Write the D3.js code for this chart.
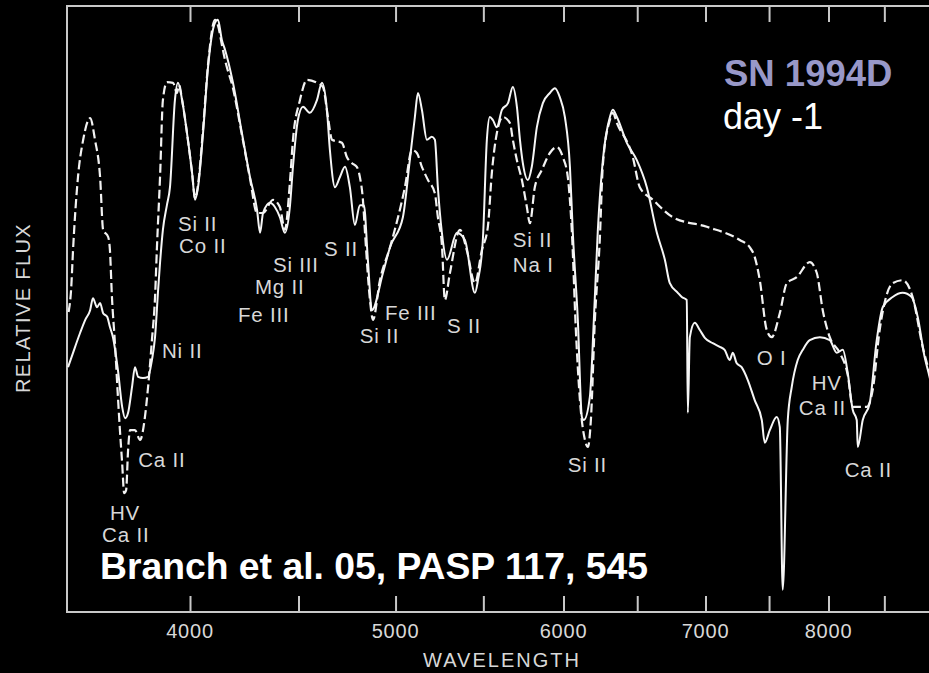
<!DOCTYPE html>
<html>
<head>
<meta charset="utf-8">
<script src="https://cdn.jsdelivr.net/npm/d3@7"></script>
<style>
  html, body { margin: 0; padding: 0; background: #000; }
  svg { display: block; }
</style>
</head>
<body>
<script>
// Observed spectrum of SN 1994D (day -1): wavelength (Å) and relative flux
const obsWave = [3504,3523,3550,3570,3589,3600,3616,3628,3640,3656,3667,3679,3699,3716,3728,3740,3756,3768,3781,3801,3822,3838,3851,3864,3872,3884,3901,3914,3935,3948,3966,3987,4009,4022,4035,4057,4079,4110,4123,4141,4155,4191,4232,4269,4302,4316,4330,4363,4386,4410,4434,4458,4473,4497,4522,4556,4591,4616,4641,4656,4682,4707,4733,4758,4784,4810,4831,4852,4873,4932,4970,5040,5078,5106,5123,5145,5173,5201,5218,5235,5258,5287,5344,5391,5450,5468,5497,5521,5539,5557,5581,5612,5649,5679,5704,5723,5741,5772,5797,5829,5867,5912,5944,5976,6009,6042,6061,6094,6121,6134,6174,6201,6228,6262,6310,6330,6358,6427,6497,6568,6640,6698,6734,6793,6822,6859,6867,6882,6919,6957,6995,7055,7109,7147,7186,7211,7240,7280,7328,7384,7441,7465,7506,7563,7588,7612,7654,7687,7737,7780,7839,7925,8011,8072,8125,8169,8213,8249,8258,8303,8366,8430,8485,8577,8670,8756,8813,8880,8919,8977];
const obsFlux = [40.8,43.2,46.5,48.7,50.3,52.3,50.8,51.5,49.8,49.2,47.5,45.8,40.3,34.2,32.3,33.2,37.5,40.8,39.2,39.0,39.2,42.0,45.8,53.7,58.2,63.7,67.8,70.8,85.3,88.2,85.3,79.8,73.2,68.7,70.8,79.8,90.8,98.2,98.7,95.3,93.7,88.2,79.8,72.5,67.0,63.2,66.5,68.2,67.5,65.8,63.2,67.5,74.2,82.0,84.2,83.2,85.3,88.2,83.7,77.0,70.8,72.5,74.2,70.8,64.5,67.8,67.8,58.7,50.3,56.5,60.8,65.8,75.3,82.5,86.5,83.7,78.7,79.2,78.7,70.8,63.2,58.7,63.2,62.0,53.2,55.3,62.0,78.7,82.5,82.0,80.8,83.7,84.8,87.5,84.2,78.7,74.8,72.0,74.2,80.8,84.8,86.5,87.3,85.8,82.5,74.2,63.2,48.7,32.5,32.0,35.8,48.7,63.7,75.3,82.5,83.7,82.5,78.2,75.3,70.8,63.2,58.7,54.8,53.2,52.5,52.0,33.2,45.8,48.2,47.0,45.7,44.8,44.2,43.7,42.0,43.2,41.5,40.8,38.7,35.3,32.0,28.2,30.3,32.5,30.8,3.7,32.0,37.5,42.0,43.7,45.3,45.8,45.3,43.2,43.7,39.8,33.7,32.0,27.5,32.0,34.8,45.3,50.8,52.5,53.2,52.5,49.2,42.5,39.8,35.3];

// Synthetic (model) spectrum
const synWave = [3506,3516,3523,3542,3562,3589,3608,3628,3640,3660,3667,3675,3687,3699,3707,3716,3724,3732,3740,3748,3768,3789,3809,3822,3838,3851,3859,3872,3884,3901,3927,3944,3953,3966,3987,4009,4022,4035,4057,4079,4110,4123,4141,4155,4191,4232,4269,4302,4330,4377,4410,4434,4458,4473,4507,4542,4591,4621,4646,4667,4717,4743,4769,4794,4810,4826,4837,4863,4879,4916,4970,5051,5090,5117,5145,5179,5218,5235,5258,5275,5304,5362,5402,5450,5491,5527,5551,5581,5618,5661,5679,5704,5735,5766,5785,5816,5861,5912,5957,5996,6028,6055,6081,6108,6141,6161,6181,6208,6241,6262,6310,6330,6358,6469,6518,6611,6756,7010,7265,7344,7384,7425,7481,7522,7588,7646,7729,7839,7899,7950,8011,8098,8169,8213,8339,8393,8457,8577,8670,8765,8861,8919,8977];
const synFlux = [50.0,54.0,60.3,72.5,78.7,82.3,78.7,72.5,63.7,62.5,60.3,52.5,44.8,35.8,30.3,24.8,19.8,20.3,27.0,30.3,30.3,28.7,32.5,37.5,45.3,52.5,60.8,72.5,85.3,88.3,88.2,86.5,87.8,85.3,79.8,73.2,69.0,71.2,80.5,91.2,98.7,97.8,94.5,92.0,87.3,79.5,72.3,66.5,66.5,68.7,67.5,63.7,71.5,78.7,85.3,88.7,88.2,87.5,82.5,78.7,78.2,75.8,74.8,74.2,72.5,68.7,63.2,52.0,48.7,55.3,60.8,70.8,77.0,76.5,74.2,72.0,69.8,65.8,61.2,52.0,56.5,63.7,60.3,54.8,60.3,64.2,73.2,79.8,82.5,81.5,78.7,75.3,72.0,67.5,64.8,70.8,73.7,76.5,77.5,75.8,72.5,63.2,47.0,35.3,28.7,27.5,32.0,48.7,62.0,74.5,82.0,83.2,81.5,75.8,70.8,68.7,65.8,64.2,62.0,60.8,59.2,55.3,47.0,45.8,49.8,54.8,55.8,58.3,56.5,50.3,45.8,43.2,39.5,34.2,34.2,37.0,47.0,54.8,55.3,52.5,44.2,40.3,36.2];

// Axis ticks
const tickWaves = [4000,4500,5000,5500,6000,6500,7000,7500,8000,8500];
const labelWaves = [4000,5000,6000,7000,8000];

// Line identifications: text, wavelength and flux of the label's baseline start
const idText = ["Si II","Co II","Si III","S II","Mg II","Fe III","Ni II","Ca II","HV","Ca II","Si II","Fe III","S II","Si II","Na I","Si II","O I","HV","Ca II","Ca II"];
const idWave = [3948,3953,4377,4626,4292,4214,3880,3781,3667,3636,4810,4943,5287,5679,5679,6028,7401,7856,7746,8142];
const idFlux = [63.5,59.8,56.7,59.3,53.0,48.3,42.3,24.2,15.3,11.7,44.8,48.7,46.5,60.8,56.7,23.3,41.2,37.0,32.8,22.5];

const W = 929, H = 673;
const plotL = 67, plotR = 937, plotT = 6, plotB = 612;

const svg = d3.select("body").append("svg")
  .attr("width", W).attr("height", H)
  .style("background", "#000");

const x = d3.scaleLog().domain([3500, 9000]).range([plotL, plotR]);
const y = d3.scaleLinear().domain([0, 100]).range([plotB, 12]);

const font = "'Liberation Sans', Arial, Helvetica, sans-serif";
const axisColor = "#c8c8c8";
const textColor = "#d8d8d8";

// Frame: left, top, bottom edges
svg.append("path")
  .attr("d", `M${plotR + 10},${plotT}H${plotL}V${plotB}H${plotR + 10}`)
  .attr("stroke", axisColor).attr("stroke-width", 2).attr("fill", "none");

// Inward ticks on top and bottom axes
const bottomAxis = d3.axisBottom(x).tickValues(tickWaves).tickSize(-16).tickFormat("");
const topAxis = d3.axisTop(x).tickValues(tickWaves).tickSize(-16).tickFormat("");
const gb = svg.append("g").attr("transform", `translate(0,${plotB})`).call(bottomAxis);
const gt = svg.append("g").attr("transform", `translate(0,${plotT})`).call(topAxis);
[gb, gt].forEach(g => {
  g.select(".domain").remove();
  g.selectAll(".tick line").attr("stroke", axisColor).attr("stroke-width", 2);
});

// Tick labels
svg.append("g").selectAll("text").data(labelWaves).join("text")
  .attr("x", d => x(d)).attr("y", 638)
  .attr("text-anchor", "middle")
  .attr("font-family", font).attr("font-size", 20)
  .attr("letter-spacing", 0.8)
  .attr("fill", textColor)
  .text(d => d);

// Axis titles
svg.append("text")
  .attr("x", 502).attr("y", 667)
  .attr("text-anchor", "middle")
  .attr("font-family", font).attr("font-size", 20)
  .attr("letter-spacing", 2)
  .attr("fill", textColor)
  .text("WAVELENGTH");

svg.append("text")
  .attr("transform", "translate(30,308) rotate(-90)")
  .attr("text-anchor", "middle")
  .attr("font-family", font).attr("font-size", 20)
  .attr("letter-spacing", 1.4)
  .attr("fill", textColor)
  .text("RELATIVE FLUX");

// Spectra
svg.append("clipPath").attr("id", "plot-clip")
  .append("rect").attr("x", plotL).attr("y", plotT).attr("width", plotR - plotL).attr("height", plotB - plotT);

const line = d3.line()
  .x(d => x(d[0]))
  .y(d => y(d[1]))
  .curve(d3.curveMonotoneX);

const obs = d3.zip(obsWave, obsFlux);
const syn = d3.zip(synWave, synFlux);

const plot = svg.append("g").attr("clip-path", "url(#plot-clip)");

plot.append("path")
  .datum(syn)
  .attr("d", line)
  .attr("fill", "none")
  .attr("stroke", "#f2f2f2")
  .attr("stroke-width", 2.2)
  .attr("stroke-dasharray", "9,4");

plot.append("path")
  .datum(obs)
  .attr("d", line)
  .attr("fill", "none")
  .attr("stroke", "#f6f6f6")
  .attr("stroke-width", 2)
  .attr("stroke-linejoin", "round");

// Line identification labels
svg.append("g").selectAll("text").data(d3.range(idText.length)).join("text")
  .attr("x", i => x(idWave[i]))
  .attr("y", i => y(idFlux[i]))
  .attr("font-family", font).attr("font-size", 20.5)
  .attr("letter-spacing", 0.8)
  .attr("fill", textColor)
  .text(i => idText[i]);

// Object name, epoch and reference
svg.append("text")
  .attr("x", 724).attr("y", 86)
  .attr("font-family", font).attr("font-size", 36.5).attr("font-weight", "bold")
  .attr("fill", "#9898c8")
  .text("SN 1994D");

svg.append("text")
  .attr("x", 723).attr("y", 129)
  .attr("font-family", font).attr("font-size", 36)
  .attr("fill", "#ffffff")
  .text("day -1");

svg.append("text")
  .attr("x", 100).attr("y", 579)
  .attr("font-family", font).attr("font-size", 37.3).attr("font-weight", "bold")
  .attr("fill", "#ffffff")
  .text("Branch et al. 05, PASP 117, 545");
</script>
</body>
</html>
